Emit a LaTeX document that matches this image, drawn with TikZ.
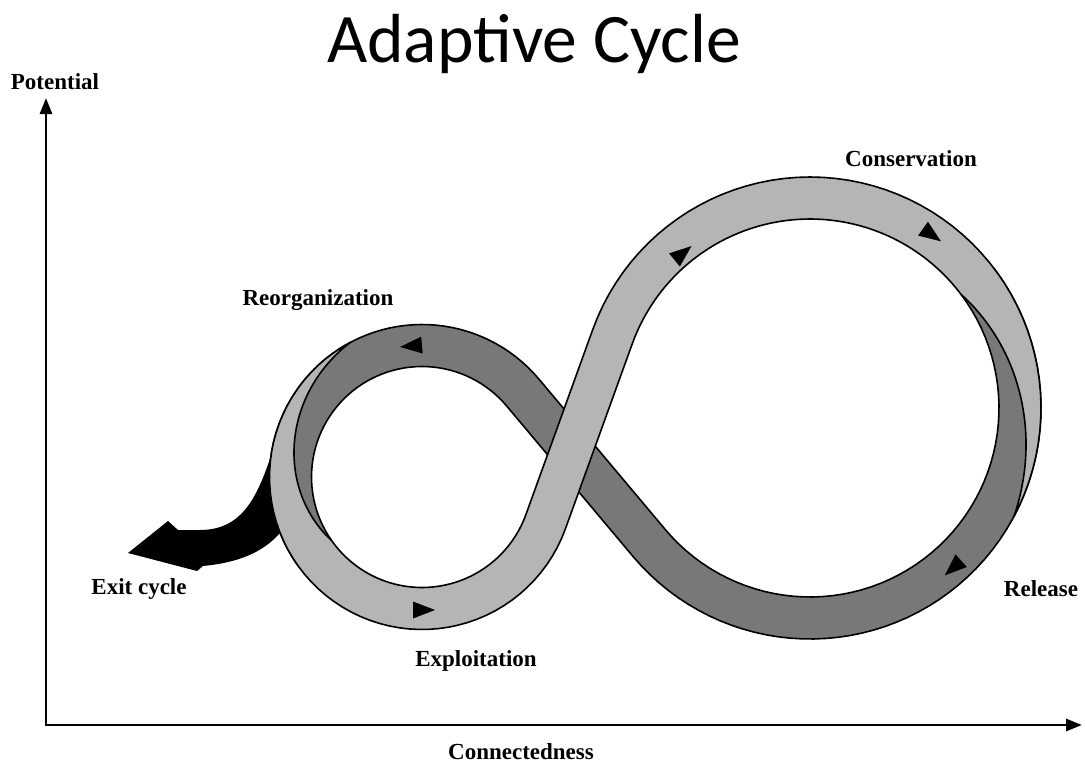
\documentclass[tikz,border=0pt]{standalone}
\usepackage{fontspec}
\newfontfamily\titlefont{Carlito}
\newfontfamily\labelfont{Liberation Serif}
\usetikzlibrary{arrows.meta}
\definecolor{lightband}{RGB}{181,181,181}
\definecolor{darkband}{RGB}{120,120,120}
% flow marker: x, y, direction angle
\newcommand{\flowmark}[3]{%
  \fill ({#1+11*cos(#3)},{#2-11*sin(#3)})
    -- ({#1-11*cos(#3)+8.5*sin(#3)},{#2+11*sin(#3)+8.5*cos(#3)})
    -- ({#1-11*cos(#3)-8.5*sin(#3)},{#2+11*sin(#3)-8.5*cos(#3)}) -- cycle;}
\tikzset{
  band/.style={draw=black, line width=1.6pt, line join=round, samples=60},
  lbl/.style={font=\labelfont\bfseries\fontsize{23}{27}\selectfont},
  axis/.style={line width=2.8pt, -{Triangle[length=16pt,width=12pt]}},
}
\begin{document}
\begin{tikzpicture}[x=1pt,y=-1pt]
    \useasboundingbox (0,0) rectangle (1085,763);
    \fill[white] (0,0) rectangle (1085,763);
    \node[anchor=base, font=\titlefont\fontsize{69.5}{80}\selectfont] at (534,62) (title) {Adaptive Cycle};
    % exit arrow
    \fill (280,430) .. controls (262,480) and (252,530) .. (200,530) -- (178,530) -- (168,521)
      -- (128,553) -- (197,571) -- (203,566) .. controls (245,562) and (272,548) .. (288,522) -- cycle;
    % release and reorganization
    \draw[band, fill=darkband]
      plot[domain=37:-139.98] ({810+231*cos(\x)},{408-231*sin(\x)})
      -- plot[domain=40.02:215] ({422+110.5*cos(\x)},{477-110.5*sin(\x)})
      -- plot[domain=215:40.02] ({422+152.5*cos(\x)},{477-152.5*sin(\x)})
      -- plot[domain=-139.98:37] ({810+189*cos(\x)},{408-189*sin(\x)})
      -- cycle;
    % exploitation and conservation
    \draw[band, fill=lightband]
      plot[domain=118:215] ({422+(152.5-42*(\x-118)/97)*cos(\x)},{477-(152.5-42*(\x-118)/97)*sin(\x)})
      -- plot[domain=215:340.14] ({422+110.5*cos(\x)},{477-110.5*sin(\x)})
      -- plot[domain=160.14:-28] ({810+231*cos(\x)},{408-231*sin(\x)})
      -- plot[domain=-28:37] ({810+(189+42*(37-\x)/65)*cos(\x)},{408-(189+42*(37-\x)/65)*sin(\x)})
      -- plot[domain=37:160.14] ({810+189*cos(\x)},{408-189*sin(\x)})
      -- plot[domain=340.14:118] ({422+152.5*cos(\x)},{477-152.5*sin(\x)})
      -- cycle;
    \flowmark{411}{346}{185}
    \flowmark{424}{610}{0}
    \flowmark{683}{253}{39.3}
    \flowmark{932}{235}{-35.2}
    \flowmark{953}{568}{-138.2}
    % axes
    \coordinate (O) at (46,725);
    \coordinate (Ytop) at (46,98);
    \coordinate (Xend) at (1082,725);
    \draw[axis] ([yshift=-1.4]O) -- (Ytop);
    \draw[axis] ([xshift=-1.4]O) -- (Xend);
    \node[lbl] at (55,82) (pot) {Potential};
    \node[lbl] at (521,752) (conn) {Connectedness};
    \node[lbl] at (318,300) (reorg) {Reorganization};
    \node[lbl] at (911,159) (cons) {Conservation};
    \node[lbl] at (139,589) (exit) {Exit cycle};
    \node[lbl] at (1041,589) (rel) {Release};
    \node[lbl] at (476,661) (expl) {Exploitation};
\end{tikzpicture}
\end{document}
